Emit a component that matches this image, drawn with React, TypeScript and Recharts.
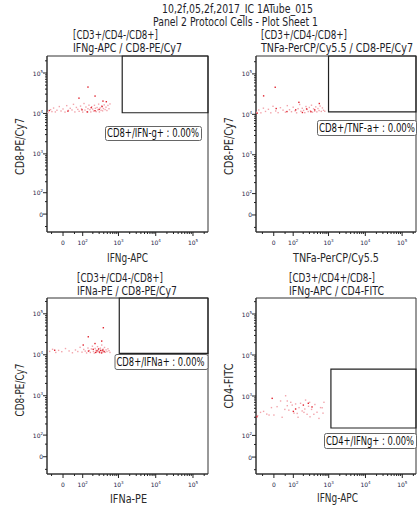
import React from 'react';
import { ScatterChart, Scatter, XAxis, YAxis, ReferenceArea } from 'recharts';

// ---------- data ----------
const COFACTOR = 65;
const T = (v: number) => Math.asinh(v / COFACTOR);

const majorTickValues = [0, 100, 1000, 10000, 100000];
const majorTickBases = ['0', '10', '10', '10', '10'];
const majorTickExps = ['', '2', '3', '4', '5'];
const minorTickValues = [
  -50, 50, 200, 300, 400, 500, 600, 700, 800, 900,
  2000, 3000, 4000, 5000, 6000, 7000, 8000, 9000,
  20000, 30000, 40000, 50000, 60000, 70000, 80000, 90000, 200000,
];

const mainTitle = '10,2f,05,2f,2017_IC 1ATube_015';
const subTitle = 'Panel 2 Protocol Cells - Plot Sheet 1';

const panelPopulations = ['[CD3+/CD4-/CD8+]', '[CD3+/CD4-/CD8+]', '[CD3+/CD4-/CD8+]', '[CD3+/CD4+/CD8-]'];
const panelParams = ['IFNg-APC / CD8-PE/Cy7', 'TNFa-PerCP/Cy5.5 / CD8-PE/Cy7', 'IFNa-PE / CD8-PE/Cy7', 'IFNg-APC / CD4-FITC'];
const xAxisNames = ['IFNg-APC', 'TNFa-PerCP/Cy5.5', 'IFNa-PE', 'IFNg-APC'];
const yAxisNames = ['CD8-PE/Cy7', 'CD8-PE/Cy7', 'CD8-PE/Cy7', 'CD4-FITC'];
const gateNames = ['CD8+/IFN-g+', 'CD8+/TNF-a+', 'CD8+/IFNa+', 'CD4+/IFNg+'];
const gatePercents = ['0.00%', '0.00%', '0.00%', '0.00%'];

// gate bounds [xMin, yMin, yMax] (null = to axis max)
const gate1 = [1260, 10400, null];
const gate2 = [1000, 11500, null];
const gate3 = [1050, 10800, null];
const gate4 = [1150, 160, 4540];

const p1Light: [number, number][] = [
  [-70, 10600], [-55, 12400], [-48, 11100], [-40, 13600], [-32, 10900], [-25, 12000], [-15, 14800], [-8, 11500],
  [0, 12900], [8, 10800], [15, 15600], [22, 11900], [30, 13400], [38, 12200], [45, 16800], [52, 10900],
  [60, 14100], [68, 12600], [76, 11300], [85, 15200], [92, 13000], [100, 10800], [110, 17600], [118, 12100],
  [126, 14400], [135, 11000], [145, 13100], [155, 16000], [165, 12400], [175, 10900], [186, 14700], [198, 12800],
  [210, 11500], [222, 15900], [235, 13400], [248, 11100], [262, 14000], [276, 12300], [290, 17000], [305, 10900],
  [320, 13700], [338, 12000], [355, 15400], [372, 11600], [392, 13200], [412, 16300], [435, 12500], [460, 14300],
  [488, 11800], [520, 15800], [555, 13100], [590, 17200],
];
const p1Dark: [number, number][] = [
  [-62, 11800], [20, 11400], [95, 12300], [140, 10900], [180, 13900], [230, 11700], [300, 12600], [360, 14800],
  [145, 44900], [231, 26900], [75, 23900], [381, 20200], [470, 19500],
];

const p2Light: [number, number][] = [
  [-85, 11200], [-70, 12800], [-58, 10900], [-45, 14200], [-35, 11800], [-22, 13300], [-12, 10900], [-3, 15800],
  [8, 12100], [18, 11000], [28, 14600], [40, 12700], [52, 11300], [62, 16400], [75, 13000], [88, 11600],
  [100, 15000], [115, 12200], [128, 10900], [142, 13800], [158, 17500], [172, 11900], [188, 14100], [205, 12500],
  [222, 11000], [240, 15600], [258, 13200], [278, 11700], [298, 14800], [320, 12300], [342, 16800], [365, 11300],
  [390, 13700], [418, 12000], [448, 15300], [480, 11500], [515, 13900], [552, 12400], [590, 16000], [635, 11800],
  [680, 14400], [730, 12600], [790, 11900],
];
const p2Dark: [number, number][] = [
  [-80, 10700], [10, 13900], [60, 11700], [120, 12900], [190, 11100], [250, 13600], [330, 11600], [420, 12900],
  [6, 46700], [-44, 28600], [150, 19800], [560, 18500],
];

const p3Light: [number, number][] = [
  [-60, 12100], [-45, 13600], [-30, 11400], [-18, 12800], [-5, 11900], [10, 14200], [25, 12400], [40, 11200],
  [55, 13100], [68, 12000], [82, 15200], [95, 11600], [108, 13500], [120, 12300], [132, 11100], [145, 14600],
  [158, 12700], [170, 11400], [182, 13900], [195, 16200], [208, 12100], [220, 11000], [232, 14300], [245, 12900],
  [258, 11700], [270, 15800], [283, 13300], [296, 12200], [310, 11200], [324, 14500], [338, 12600], [352, 17300],
  [368, 11800], [385, 13700], [402, 12400], [420, 15100], [440, 11500], [462, 13200], [490, 12000], [520, 14000],
  [555, 12600], [590, 11400],
];
const p3Dark: [number, number][] = [
  [104, 17300], [150, 12300], [205, 13600], [240, 11400], [262, 12500], [290, 13900], [305, 11600], [330, 12800],
  [350, 11100], [375, 13000], [410, 11900], [390, 45700], [148, 27500], [352, 21600], [-35, 12900], [230, 18800],
];

const p4Light: [number, number][] = [
  [-78, 330], [-61, 397], [-45, 420], [-30, 360], [-20, 341], [-10, 520], [0, 341], [13, 549],
  [28, 756], [35, 300], [52, 1015], [61, 756], [61, 580], [70, 450], [82, 702], [92, 600],
  [105, 380], [118, 640], [132, 374], [150, 520], [166, 664], [185, 430], [208, 397], [231, 796],
  [255, 356], [280, 560], [308, 308], [340, 470], [393, 356], [420, 620], [480, 400], [543, 281],
  [600, 520], [665, 516], [743, 702], [700, 380], [48, 470], [140, 300], [220, 480], [300, 700],
];
const p4Dark: [number, number][] = [
  [-7, 877], [276, 664], [118, 481], [-83, 309], [200, 600], [100, 420], [350, 540],
];

// ---------- rendering ----------
const FONT = '"DejaVu Sans", "Noto Sans", sans-serif';
const TEXT = '#1e1e2a';
const majorPos = majorTickValues.map(T);
const tickPositions = [...majorTickValues, ...minorTickValues].map(T).sort((a, b) => a - b);

const XTick = (props: any) => {
  const { x, y, payload } = props;
  const idx = majorPos.indexOf(payload.value);
  const major = idx >= 0;
  return (
    <g>
      <line x1={x} x2={x} y1={y} y2={y + (major ? 4 : 2)} stroke="#222" strokeWidth={1} />
      {major && (
        <text x={x} y={y + 13} textAnchor="middle" fontSize={6} fill="#1d1d48" fontFamily={FONT}>
          <tspan>{majorTickBases[idx]}</tspan>
          {majorTickExps[idx] && <tspan dy={-3} fontSize={4}>{majorTickExps[idx]}</tspan>}
        </text>
      )}
    </g>
  );
};

const YTick = (props: any) => {
  const { x, y, payload } = props;
  const idx = majorPos.indexOf(payload.value);
  const major = idx >= 0;
  return (
    <g>
      <line x1={x} x2={x - (major ? 4 : 2)} y1={y} y2={y} stroke="#222" strokeWidth={1} />
      {major && (
        <text x={x - 4} y={y + 2.5} textAnchor="end" fontSize={6} fill="#1d1d48" fontFamily={FONT}>
          <tspan>{majorTickBases[idx]}</tspan>
          {majorTickExps[idx] && <tspan dy={-3} fontSize={4}>{majorTickExps[idx]}</tspan>}
        </text>
      )}
    </g>
  );
};

const DotShape = (props: any) => {
  const { cx, cy, fill } = props;
  if (cx == null || cy == null) return <g />;
  return <rect x={cx - 0.7} y={cy - 0.7} width={1.4} height={1.4} fill={fill} />;
};

type PanelProps = {
  left: number; top: number; yAxisWidth: number;
  xDomain: [number, number]; yDomain: [number, number];
  light: [number, number][]; dark: [number, number][];
  gate: (number | null)[];
};

const Panel = ({ left, top, yAxisWidth, xDomain, yDomain, light, dark, gate }: PanelProps) => {
  const lightData = light.map(([a, b]) => ({ x: T(a), y: T(b) }));
  const darkData = dark.map(([a, b]) => ({ x: T(a), y: T(b) }));
  const gx1 = T(gate[0] as number);
  const gy1 = T(gate[1] as number);
  const gy2 = gate[2] == null ? yDomain[1] : T(gate[2] as number);
  return (
    <div style={{ position: 'absolute', left, top }}>
      <ScatterChart width={209} height={214} margin={{ top: 4, right: 1, bottom: 0, left: 0 }}>
        <XAxis type="number" dataKey="x" domain={xDomain} allowDataOverflow ticks={tickPositions} interval={0}
          tick={(p: any) => <XTick {...p} />} tickLine={false} tickSize={0} tickMargin={0} height={34}
          axisLine={{ stroke: '#333' }} />
        <YAxis type="number" dataKey="y" domain={yDomain} allowDataOverflow ticks={tickPositions} interval={0}
          tick={(p: any) => <YTick {...p} />} tickLine={false} tickSize={0} tickMargin={0} width={yAxisWidth}
          axisLine={{ stroke: '#333' }} />
        <ReferenceArea x1={xDomain[0]} x2={xDomain[1]} y1={yDomain[0]} y2={yDomain[1]} fill="none" fillOpacity={0}
          stroke="#333" strokeWidth={1} ifOverflow="extendDomain" />
        <ReferenceArea x1={gx1} x2={xDomain[1]} y1={gy1} y2={gy2} fill="none" fillOpacity={0}
          stroke="#222" strokeWidth={1.2} ifOverflow="extendDomain" />
        <Scatter data={lightData} fill="#f2a4ab" shape={DotShape} isAnimationActive={false} />
        <Scatter data={darkData} fill="#e0202c" shape={DotShape} isAnimationActive={false} />
      </ScatterChart>
    </div>
  );
};

const Fit = ({ x, y, len, anchor, size = 12, fill = TEXT, transform, children }: any) => (
  <text x={x} y={y} textAnchor={anchor || 'start'} fontSize={size} fill={fill} textLength={len}
    lengthAdjust="spacingAndGlyphs" transform={transform}>{children}</text>
);

const GateLabel = ({ x, y, w, h, len, text }: { x: number; y: number; w: number; h: number; len: number; text: string }) => (
  <g>
    <rect x={x + 0.5} y={y + 0.5} width={w} height={h} rx={2} fill="#fff" stroke="#666" strokeWidth={1} />
    <Fit x={x + 2} y={y + h - 3} len={len} size={11.5} fill="#111">{text}</Fit>
  </g>
);

export default function App() {
  const titleX = [73, 261, 77, 289];
  const titleY = [39, 39, 282, 282];
  const popLen = [85, 86, 86, 86];
  const paramLen = [109, 152, 100, 95];
  const xLabelPos = [[127.5, 262], [336, 262], [128.5, 503], [337.5, 502]];
  const xLabelLen = [41, 86, 37, 41];
  const yLabelPos = [[23.5, 146.5], [233, 146], [23.5, 390], [233, 386]];
  const yLabelLen = [57, 58, 53, 45];
  const gateBoxes = [[105, 126, 96, 14], [317, 120, 99, 15], [114.5, 354, 93, 15], [324, 433, 92, 15]];
  const gateLen = [92, 96, 88, 88];
  return (
    <div style={{ position: 'absolute', left: 0, top: 0, width: 417, height: 511, overflow: 'hidden', background: '#fff' }}>
      <Panel left={0} top={52} yAxisWidth={47} xDomain={[-0.99, 8.96]} yDomain={[-1.02, 9.0]} light={p1Light} dark={p1Dark} gate={gate1} />
      <Panel left={208} top={52} yAxisWidth={48} xDomain={[-1.11, 8.9]} yDomain={[-0.97, 9.05]} light={p2Light} dark={p2Dark} gate={gate2} />
      <Panel left={0} top={294} yAxisWidth={47} xDomain={[-0.99, 8.96]} yDomain={[-0.97, 8.92]} light={p3Light} dark={p3Dark} gate={gate3} />
      <Panel left={208} top={294} yAxisWidth={48} xDomain={[-1.12, 8.89]} yDomain={[-0.95, 8.93]} light={p4Light} dark={p4Dark} gate={gate4} />
      <svg width={417} height={511} style={{ position: 'absolute', left: 0, top: 0, pointerEvents: 'none' }} fontFamily={FONT}>
        <Fit x={162} y={12.5} len={151} size={11.5}>{mainTitle}</Fit>
        <Fit x={153} y={25.5} len={165} size={11.5}>{subTitle}</Fit>
        {panelPopulations.map((t, i) => (
          <g key={i}>
            <Fit x={titleX[i]} y={titleY[i]} len={popLen[i]} size={11.5}>{t}</Fit>
            <Fit x={titleX[i]} y={titleY[i] + 12.5} len={paramLen[i]} size={11.5}>{panelParams[i]}</Fit>
            <Fit x={xLabelPos[i][0]} y={xLabelPos[i][1]} anchor="middle" len={xLabelLen[i]} size={12} fill="#2a2a2a">{xAxisNames[i]}</Fit>
            <Fit x={yLabelPos[i][0]} y={yLabelPos[i][1]} anchor="middle" len={yLabelLen[i]} size={12} fill="#2a2a2a"
              transform={`rotate(-90, ${yLabelPos[i][0]}, ${yLabelPos[i][1]})`}>{yAxisNames[i]}</Fit>
            <GateLabel x={gateBoxes[i][0]} y={gateBoxes[i][1]} w={gateBoxes[i][2]} h={gateBoxes[i][3]} len={gateLen[i]}
              text={`${gateNames[i]} : ${gatePercents[i]}`} />
          </g>
        ))}
      </svg>
    </div>
  );
}
